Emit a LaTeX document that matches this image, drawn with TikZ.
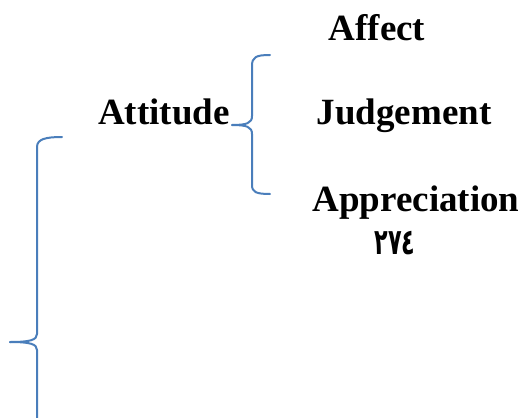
\documentclass[tikz,border=0pt]{standalone}
\usepackage{fontspec}
\setmainfont{Liberation Serif}
\newfontfamily\arabicfont[Script=Arabic]{DejaVu Sans}
\usetikzlibrary{positioning}
\definecolor{braceblue}{HTML}{4A7EBB}

\begin{document}
\begin{tikzpicture}[x=0.5pt, y=-0.5pt, word/.style = {font=\fontsize{18.5}{22}\selectfont\bfseries, inner sep=0pt, anchor=base}, brace/.style = {draw=braceblue, line width=1pt, line cap=round}]
            \useasboundingbox (0,0) rectangle (529,417);
            \node[word] (affect) at (377,41) {Affect};
            \node[word] (attitude) at (164,125) {Attitude};
            \node[word] (judgement) at (404,125) {Judgement};
            \node[word] (appreciation) at (416,211) {Appreciation};
            \node[inner sep=0pt] (page) at (395,243) {\scalebox{0.62}[1]{\arabicfont\fontsize{18}{20}\selectfont\bfseries ٢٧٤}};
            % small brace after Attitude
            \coordinate (stip) at (232,125);
            \draw[brace] (270,55) .. controls (256,55) and (252,57) .. (252,66) -- (252,116) .. controls (252,123) and (247,125) .. (stip);
            \draw[brace] (stip) .. controls (247,125) and (252,127) .. (252,134) -- (252,185) .. controls (252,192) and (256,194) .. (270,194);
            % big brace on the left
            \coordinate (btip) at (10,342);
            \draw[brace] (62,137) .. controls (46,137) and (37,139) .. (37,147) -- (37,334) .. controls (37,340) and (30,342) .. (btip);
            \draw[brace] (btip) .. controls (30,342) and (37,344) .. (37,350) -- (37,425);
        \end{tikzpicture}
\end{document}
